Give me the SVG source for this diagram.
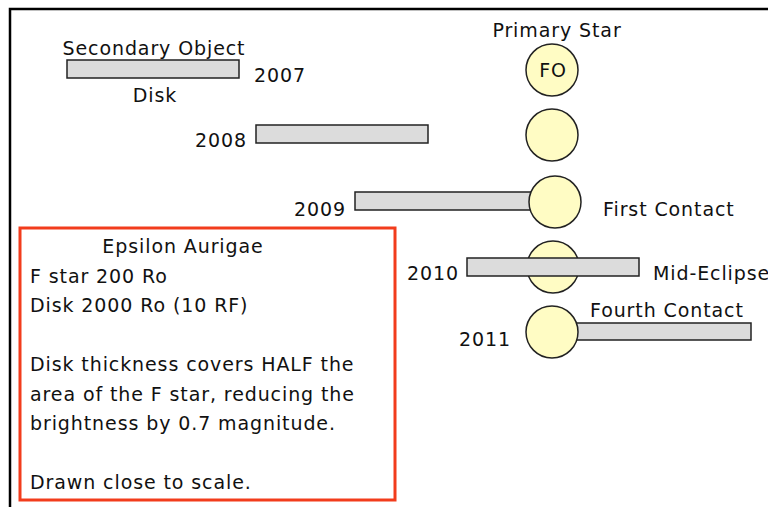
<svg xmlns="http://www.w3.org/2000/svg" width="768" height="507" viewBox="0 0 768 507">
<style>
text{font-family:"DejaVu Sans","Liberation Sans",sans-serif;font-size:19px;letter-spacing:0.9px;fill:#111}
.disk{fill:#dcdcdc;stroke:#222;stroke-width:1.5}
.star{fill:#fffcc4;stroke:#222;stroke-width:1.5}
.frame{fill:none;stroke:#000;stroke-width:2.5}
.note{fill:#fff;stroke:#f23c1c;stroke-width:3}
</style>
<rect width="768" height="507" fill="#fff"/>
<path class="frame" d="M10,507 V9 H768"/>
<g id="connectors"></g>
<g id="label-secondary"><text x="154" y="55" text-anchor="middle">Secondary Object</text></g>
<g id="label-primary"><text x="557" y="37" text-anchor="middle">Primary Star</text></g>
<g id="y2007">
<rect class="disk" x="67" y="60" width="172" height="18"/>
<text x="254" y="82">2007</text>
<text x="155" y="102" text-anchor="middle">Disk</text>
<circle class="star" cx="552" cy="70" r="26"/>
<text x="553" y="77" text-anchor="middle">FO</text>
</g>
<g id="y2008">
<rect class="disk" x="256" y="125" width="172" height="18"/>
<text x="247" y="147" text-anchor="end">2008</text>
<circle class="star" cx="552" cy="135" r="26"/>
</g>
<g id="y2009">
<rect class="disk" x="355" y="192" width="180" height="18"/>
<circle class="star" cx="555" cy="202" r="26"/>
<text x="346" y="216" text-anchor="end">2009</text>
<text x="603" y="216">First Contact</text>
</g>
<g id="y2010">
<circle class="star" cx="553" cy="267" r="26"/>
<rect class="disk" x="467" y="258" width="172" height="18"/>
<text x="459" y="280" text-anchor="end">2010</text>
<text x="653" y="280">Mid-Eclipse</text>
</g>
<g id="y2011">
<rect class="disk" x="560" y="323" width="191" height="17"/>
<circle class="star" cx="552" cy="332" r="26"/>
<text x="511" y="346" text-anchor="end">2011</text>
<text x="590" y="317">Fourth Contact</text>
</g>
<g id="note">
<rect class="note" x="20" y="228" width="375" height="272"/>
<text x="183" y="253" text-anchor="middle">Epsilon Aurigae</text>
<text x="30" y="282.5">F star 200 Ro</text>
<text x="30" y="312">Disk 2000 Ro (10 RF)</text>
<text x="30" y="371">Disk thickness covers HALF the</text>
<text x="30" y="400.5">area of the F star, reducing the</text>
<text x="30" y="430">brightness by 0.7 magnitude.</text>
<text x="30" y="489">Drawn close to scale.</text>
</g>
</svg>
